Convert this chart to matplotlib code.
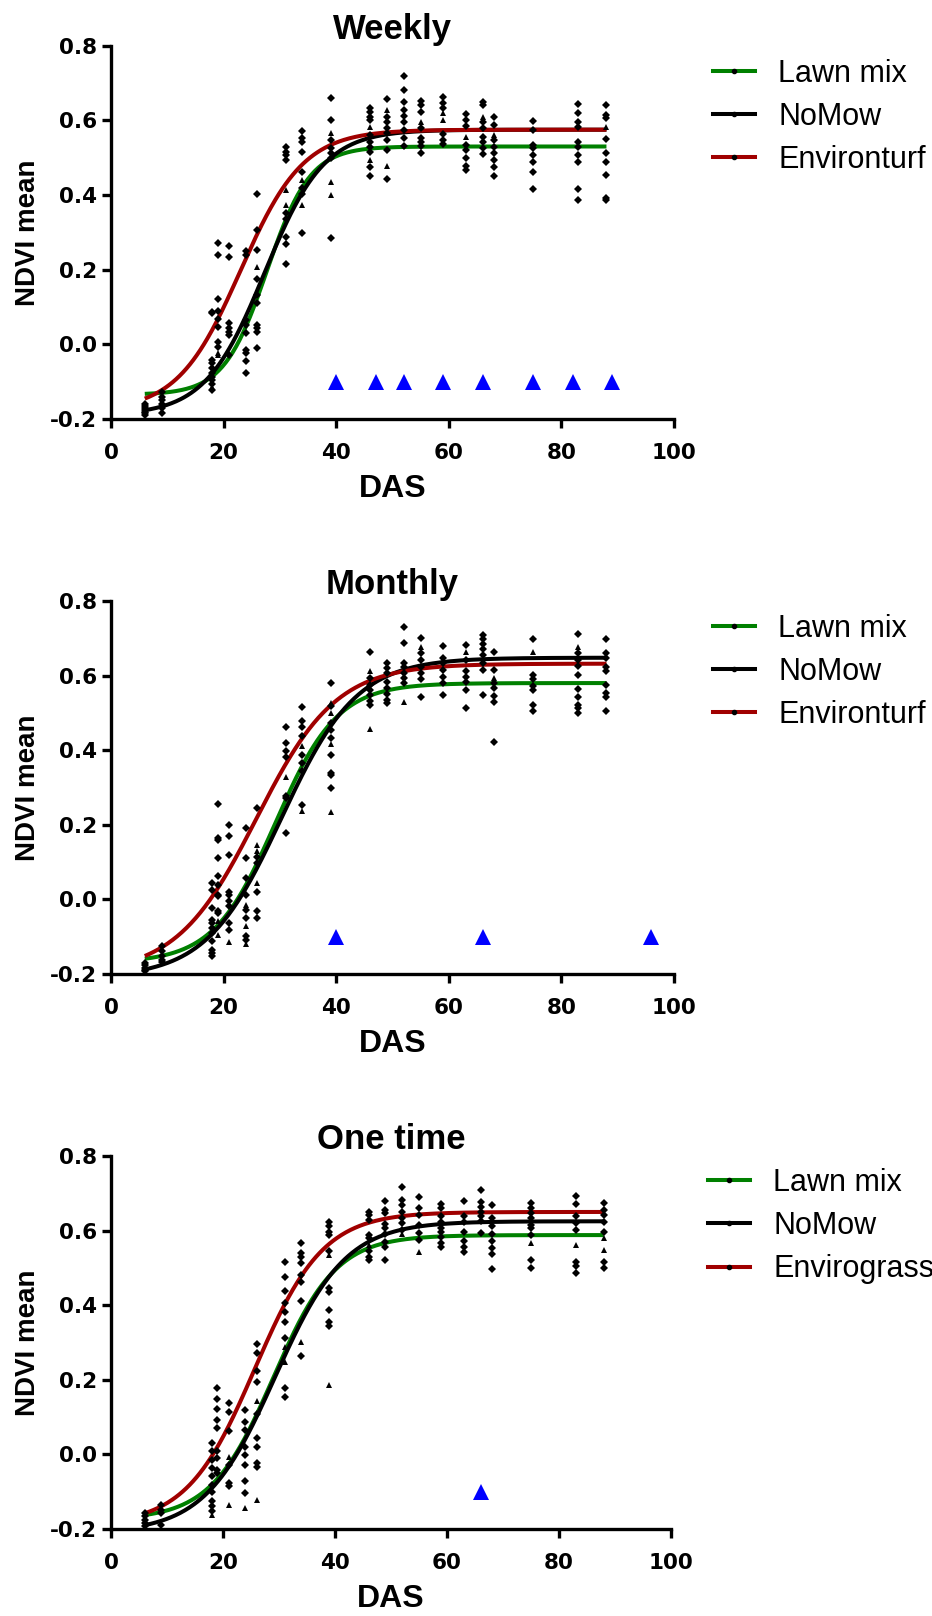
import numpy as np
import matplotlib
matplotlib.use("Agg")
import matplotlib.pyplot as plt
from matplotlib.lines import Line2D

# ---------------- data ----------------
titles = ["Weekly", "Monthly", "One time"]
series_names = [["Lawn mix", "NoMow", "Environturf"],
                ["Lawn mix", "NoMow", "Environturf"],
                ["Lawn mix", "NoMow", "Envirograss"]]

x_ticks = [0, 20, 40, 60, 80, 100]
y_ticks = [-0.2, 0.0, 0.2, 0.4, 0.6, 0.8]

# fitted sigmoid (Boltzmann) parameters: Lawn mix, NoMow, Enviro*
weekly_bottom = [-0.135, -0.19, -0.18]
weekly_top = [0.53, 0.575, 0.575]
weekly_v50 = [27.7, 27.3, 23.0]
weekly_slope = [3.85, 5.3, 5.6]

monthly_bottom = [-0.17, -0.21, -0.20]
monthly_top = [0.58, 0.648, 0.632]
monthly_v50 = [29.2, 30.3, 25.8]
monthly_slope = [5.5, 6.7, 7.1]

onetime_bottom = [-0.175, -0.21, -0.19]
onetime_top = [0.588, 0.625, 0.65]
onetime_v50 = [29.0, 29.3, 25.7]
onetime_slope = [5.6, 6.3, 6.1]

fit_start = 6
fit_end = 88

# mowing events (blue triangles)
weekly_mow = [40, 47, 52, 59, 66, 75, 82, 89]
monthly_mow = [40, 66, 96]
onetime_mow = [66]
mow_level = -0.1

# sampling days
das = [6, 9, 18, 19, 21, 24, 26, 31, 34, 39, 46, 49, 52, 55, 59, 63, 66, 68, 75, 83, 88]

weekly_dots = [
    [-0.16, -0.165, -0.17, -0.175, -0.18, -0.185, -0.19],
    [-0.127, -0.14, -0.15, -0.16, -0.17, -0.185],
    [0.087, 0.083, -0.042, -0.051, -0.064, -0.078, -0.087, -0.096, -0.105, -0.122],
    [0.272, 0.239, 0.121, 0.09, 0.067, 0.047, 0.007, -0.006],
    [0.264, 0.235, 0.058, 0.045, 0.034, 0.025, -0.029],
    [0.251, 0.239, 0.065, 0.052, 0.03, -0.015, -0.024, -0.045, -0.078],
    [0.403, 0.306, 0.253, 0.175, 0.132, 0.11, 0.052, 0.043, 0.034, -0.011],
    [0.529, 0.516, 0.507, 0.494, 0.351, 0.337, 0.288, 0.269, 0.215],
    [0.572, 0.552, 0.543, 0.514, 0.462, 0.418, 0.404, 0.299],
    [0.661, 0.601, 0.547, 0.525, 0.512, 0.498, 0.286],
    [0.634, 0.623, 0.61, 0.601, 0.561, 0.543, 0.529, 0.516, 0.474, 0.451],
    [0.657, 0.608, 0.596, 0.579, 0.565, 0.547, 0.52, 0.442],
    [0.719, 0.681, 0.648, 0.628, 0.612, 0.596, 0.574, 0.552, 0.531],
    [0.652, 0.641, 0.623, 0.579, 0.552, 0.543, 0.531, 0.512],
    [0.662, 0.647, 0.632, 0.563, 0.547, 0.537],
    [0.617, 0.601, 0.585, 0.534, 0.52, 0.498, 0.478, 0.466],
    [0.65, 0.641, 0.596, 0.579, 0.556, 0.543, 0.525, 0.51],
    [0.608, 0.588, 0.547, 0.529, 0.512, 0.494, 0.474, 0.451],
    [0.598, 0.574, 0.534, 0.525, 0.507, 0.489, 0.461, 0.416],
    [0.644, 0.621, 0.596, 0.583, 0.543, 0.529, 0.507, 0.489, 0.416, 0.387],
    [0.641, 0.614, 0.605, 0.549, 0.512, 0.489, 0.454, 0.393, 0.387],
]
weekly_tris = [
    [], [], [-0.114], [-0.024, -0.029], [], [], [0.208], [0.413, 0.373], [0.44, 0.373],
    [0.567, 0.436, 0.4], [0.581, 0.494], [0.628, 0.478], [], [0.596], [0.619, 0.601],
    [0.556], [0.61], [0.561], [], [], [0.583],
]

monthly_dots = [
    [-0.17, -0.175, -0.185, -0.19, -0.193],
    [-0.126, -0.139, -0.153, -0.162, -0.169],
    [0.044, 0.026, -0.023, -0.054, -0.063, -0.077, -0.09, -0.112, -0.135, -0.144, -0.153],
    [0.255, 0.164, 0.16, 0.112, 0.062, 0.039, 0.013, 0.008, -0.032, -0.037],
    [0.2, 0.169, 0.12, 0.021, 0.013, -0.005, -0.019, -0.063, -0.081],
    [0.192, 0.111, 0.057, 0.013, -0.028, -0.05, -0.099, -0.108],
    [0.245, 0.115, 0.097, 0.021, -0.032, -0.05],
    [0.461, 0.419, 0.398, 0.383, 0.278, 0.271, 0.179],
    [0.517, 0.479, 0.463, 0.437, 0.388, 0.367, 0.343, 0.254],
    [0.581, 0.519, 0.472, 0.453, 0.432, 0.386, 0.338, 0.334, 0.298],
    [0.662, 0.593, 0.575, 0.562, 0.548, 0.533, 0.521],
    [0.633, 0.62, 0.606, 0.584, 0.566, 0.551, 0.535, 0.526],
    [0.729, 0.687, 0.635, 0.622, 0.608, 0.593, 0.579],
    [0.702, 0.66, 0.642, 0.624, 0.608, 0.59, 0.542],
    [0.679, 0.646, 0.633, 0.615, 0.596, 0.579, 0.547],
    [0.682, 0.642, 0.611, 0.597, 0.584, 0.562, 0.514],
    [0.709, 0.697, 0.686, 0.671, 0.655, 0.633, 0.615, 0.548],
    [0.662, 0.615, 0.579, 0.566, 0.544, 0.528, 0.423],
    [0.698, 0.602, 0.59, 0.571, 0.562, 0.521, 0.506],
    [0.711, 0.66, 0.642, 0.626, 0.602, 0.565, 0.542, 0.521, 0.512, 0.501],
    [0.698, 0.66, 0.646, 0.624, 0.611, 0.575, 0.554, 0.542, 0.504],
]
monthly_tris = [
    [], [], [], [-0.057, -0.095], [-0.115], [-0.014, -0.071, -0.119], [0.146, 0.129, 0.044],
    [0.329], [0.412, 0.238], [0.526, 0.499, 0.416, 0.233], [0.613, 0.456], [], [0.528],
    [0.678], [], [0.664], [], [0.593], [0.664], [0.678], [],
]

onetime_dots = [
    [-0.157, -0.166, -0.175, -0.184, -0.193],
    [-0.135, -0.148, -0.157, -0.188],
    [0.03, 0.008, -0.014, -0.037, -0.059, -0.081, -0.101, -0.126, -0.139, -0.153],
    [0.178, 0.148, 0.121, 0.093, 0.072, 0.008, -0.01, -0.041, -0.05],
    [0.138, 0.115, 0.062, -0.028, -0.077, -0.086],
    [0.118, 0.088, 0.066, 0.021, -0.001, -0.028, -0.071, -0.104],
    [0.296, 0.271, 0.224, 0.193, 0.108, 0.044, 0.02, -0.023, -0.035],
    [0.515, 0.475, 0.438, 0.405, 0.383, 0.356, 0.312, 0.179, 0.155],
    [0.566, 0.539, 0.528, 0.512, 0.481, 0.462, 0.412, 0.265],
    [0.624, 0.613, 0.597, 0.588, 0.546, 0.447, 0.435, 0.386, 0.356, 0.343],
    [0.651, 0.642, 0.629, 0.588, 0.579, 0.544, 0.528, 0.521],
    [0.679, 0.655, 0.646, 0.617, 0.608, 0.59, 0.569, 0.557, 0.521],
    [0.718, 0.682, 0.669, 0.651, 0.635, 0.62, 0.602],
    [0.691, 0.66, 0.642, 0.615, 0.593, 0.575],
    [0.671, 0.66, 0.638, 0.624, 0.608, 0.596, 0.584, 0.566, 0.557],
    [0.679, 0.638, 0.624, 0.596, 0.571, 0.557, 0.542],
    [0.709, 0.678, 0.664, 0.651, 0.638, 0.626, 0.593],
    [0.669, 0.633, 0.611, 0.59, 0.571, 0.554, 0.537, 0.497],
    [0.673, 0.661, 0.646, 0.633, 0.615, 0.606, 0.587, 0.521, 0.501],
    [0.694, 0.671, 0.638, 0.62, 0.602, 0.517, 0.504, 0.486],
    [0.673, 0.655, 0.642, 0.622, 0.597, 0.515, 0.501],
]
onetime_tris = [
    [], [], [-0.162], [], [-0.008, -0.135], [-0.144], [0.142, -0.121], [0.289, 0.249],
    [0.301], [0.535, 0.185], [0.562], [], [0.59], [0.542], [], [], [], [], [0.566],
    [0.562], [0.579, 0.548],
]

# ---------------- styling ----------------
plt.rcParams['font.family'] = ['Liberation Sans', 'DejaVu Sans']
plt.rcParams['axes.unicode_minus'] = False

line_colors = ["#008000", "#000000", "#A00000"]
W, H = 932, 1616
fig = plt.figure(figsize=(W / 100, H / 100), dpi=100)

boxes = [(111, 674, 45.7, 419), (111, 674, 601, 974), (111, 671, 1156, 1529)]
legend_anchor = [(1.069, 0.965), (1.069, 0.966), (1.066, 0.968)]

params = [
    (weekly_bottom, weekly_top, weekly_v50, weekly_slope),
    (monthly_bottom, monthly_top, monthly_v50, monthly_slope),
    (onetime_bottom, onetime_top, onetime_v50, onetime_slope),
]
mows = [weekly_mow, monthly_mow, onetime_mow]
dots_all = [weekly_dots, monthly_dots, onetime_dots]
tris_all = [weekly_tris, monthly_tris, onetime_tris]


def boltzmann(x, b, t, v50, s):
    return b + (t - b) / (1.0 + np.exp((v50 - x) / s))


tick_font = dict(family='DejaVu Sans', weight='bold', size=15.5)

for i in range(3):
    x0, x1, yt, yb = boxes[i]
    ax = fig.add_axes([x0 / W, 1 - yb / H, (x1 - x0) / W, (yb - yt) / H])

    xs = np.linspace(fit_start, fit_end, 400)
    b, t, v, s = params[i]
    handles = []
    for k in range(3):
        ax.plot(xs, boltzmann(xs, b[k], t[k], v[k], s[k]), color=line_colors[k],
                lw=2.9, solid_capstyle='butt', zorder=2)
        handles.append(Line2D([], [], color=line_colors[k], lw=2.9, marker='o',
                              ms=3, mfc='k', mec='k', label=series_names[i][k]))

    dx, dy, tx, ty = [], [], [], []
    for d, dl, tl in zip(das, dots_all[i], tris_all[i]):
        dx += [d] * len(dl)
        dy += dl
        tx += [d] * len(tl)
        ty += tl
    ax.plot(dx, dy, ls='none', marker='D', ms=3.6, color='k', mew=0, zorder=3)
    ax.plot(tx, ty, ls='none', marker='^', ms=4.2, color='k', mew=0, zorder=3)

    ax.plot(mows[i], [mow_level] * len(mows[i]), ls='none', marker='^', ms=11.5,
            color='#0000FF', mew=0, zorder=4, clip_on=False)

    ax.set_xlim(0, 100)
    ax.set_ylim(-0.2, 0.8)
    ax.set_xticks(x_ticks)
    ax.set_yticks(y_ticks)
    ax.set_xticklabels([str(v_) for v_ in x_ticks], fontdict=tick_font)
    ax.set_yticklabels(["%.1f" % v_ for v_ in y_ticks], fontdict=tick_font)
    for sp in ['top', 'right']:
        ax.spines[sp].set_visible(False)
    for sp in ['left', 'bottom']:
        ax.spines[sp].set_linewidth(2.4)
    ax.tick_params(width=2.4, length=6.5, direction='out')
    ax.tick_params(axis='x', pad=10.5)
    ax.tick_params(axis='y', pad=3.6)
    ax.set_xlabel("DAS", fontsize=23, fontweight='bold', labelpad=8)
    ax.set_ylabel("NDVI mean", fontsize=20, fontweight='bold', labelpad=6.5)
    ax.set_title(titles[i], fontsize=25, fontweight='bold', pad=5)

    ax.legend(handles=handles, loc='upper left', bbox_to_anchor=legend_anchor[i],
              frameon=False, fontsize=22, borderpad=0, borderaxespad=0,
              handlelength=1.39, handletextpad=0.75, labelspacing=0.43, numpoints=1)

fig.savefig("out.png", dpi=100)
